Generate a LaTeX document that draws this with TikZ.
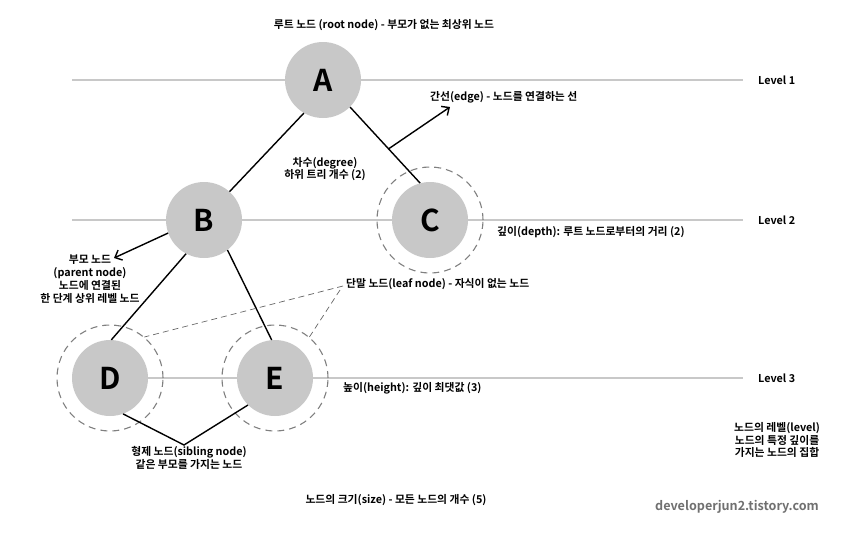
\documentclass[tikz,border=0pt]{standalone}
\usepackage{fontspec}
\setmainfont{Noto Sans CJK KR}[BoldFont={Noto Sans CJK KR Bold}]
\usetikzlibrary{arrows.meta,calc}
\definecolor{nodegray}{HTML}{C8C8C8}
\definecolor{linegray}{HTML}{C8C8C8}
\definecolor{dashgray}{HTML}{808080}
\definecolor{wmgray}{HTML}{707070}
\tikzset{
  treenode/.style={circle,fill=nodegray,minimum size=76pt,inner sep=0pt,font=\fontsize{30}{30}\selectfont\bfseries},
  ring/.style={circle,draw=dashgray,dash pattern=on 7pt off 5pt,line width=1.1pt,minimum size=106pt,inner sep=0pt},
  levelline/.style={draw=linegray,line width=1.3pt},
  edge/.style={draw=black,line width=1.4pt},
  lbl/.style={font=\fontsize{10.8}{12.8}\selectfont\bfseries,inner sep=0pt,align=center},
  tip/.style={-{Straight Barb[length=6pt,width=11pt,line width=1.4pt]}},
  leafline/.style={draw=dashgray!80!black,dash pattern=on 6pt off 4pt,line width=0.7pt}
}
\begin{document}
\begin{tikzpicture}[x=1pt,y=-1pt]
\useasboundingbox (0,0) rectangle (866,538);
% level lines
\coordinate (l1s) at (72,80); \coordinate (l1e) at (743,80);
\coordinate (l2s) at (72,220); \coordinate (l2e) at (743,220);
\coordinate (l3s) at (72,378); \coordinate (l3e) at (743,378);
\draw[levelline] (l1s) -- (l1e);
\draw[levelline] (l2s) -- (l2e);
\draw[levelline] (l3s) -- (l3e);
\node[lbl,anchor=west] (lv1) at (758,80) {Level 1};
\node[lbl,anchor=west] (lv2) at (758,220) {Level 2};
\node[lbl,anchor=west] (lv3) at (758,378) {Level 3};
% rings
\node[ring] (rc) at (430,220) {};
\node[ring] (rd) at (110,378) {};
\node[ring] (re) at (275,378) {};
% nodes
\node[treenode] (A) at (323,80) {A};
\node[treenode] (B) at (204,220) {B};
\node[treenode] (C) at (430,220) {C};
\node[treenode] (D) at (110,378) {D};
\node[treenode] (E) at (275,378) {E};
% edges
\draw[edge] (A.240) -- (B.48);
\draw[edge] (A.-45) -- (C.105);
\draw[edge] (B.-118) -- (D.88);
\draw[edge] (B.-52) -- (E.95);
% edge annotation
\coordinate (em) at ($(A.-45)!0.55!(C.105)$);
\coordinate (et) at (450,107);
\draw[edge,tip] (em) -- (et);
\node[lbl,anchor=west] (edgetxt) at (430,97) {간선(edge) - 노드를 연결하는 선};
% root text
\node[lbl] (roottxt) at (384,25) {루트 노드 (root node) - 부모가 없는 최상위 노드};
% degree
\node[lbl] (degtxt) at (325,169) {차수(degree)\\하위 트리 개수 (2)};
% depth
\node[lbl,anchor=west] (deptxt) at (497,232) {깊이(depth): 루트 노드로부터의 거리 (2)};
% parent
\node[lbl] (partxt) at (90,279) {부모 노드\\(parent node)\\노드에 연결된\\한 단계 상위 레벨 노드};
\coordinate (pt) at (114,258);
\draw[edge,tip] (B.200) -- (pt);
% leaf
\node[lbl,anchor=west] (leaftxt) at (346,284) {단말 노드(leaf node) - 자식이 없는 노드};
\coordinate (lf1) at (343,286);
\coordinate (lf2) at (340,290);
\draw[leafline] (lf1) -- (rd.50);
\draw[leafline] (lf2) -- (re.50);
% height
\node[lbl,anchor=west] (hgttxt) at (343,388) {높이(height): 깊이 최댓값 (3)};
% sibling
\coordinate (sv) at (184,445);
\draw[edge] (D.-70) -- (sv) -- (E.-135);
\node[lbl] (sibtxt) at (189,458) {형제 노드(sibling node)\\같은 부모를 가지는 노드};
% level text
\node[lbl] (levtxt) at (777,440) {노드의 레벨(level)\\노드의 특정 깊이를\\가지는 노드의 집합};
% size
\node[lbl] (sizetxt) at (396,500) {노드의 크기(size) - 모든 노드의 개수 (5)};
% watermark
\node[font=\fontsize{12.6}{15}\selectfont\bfseries,text=wmgray,inner sep=0pt] (wm) at (737,507) {developerjun2.tistory.com};
\end{tikzpicture}
\end{document}
